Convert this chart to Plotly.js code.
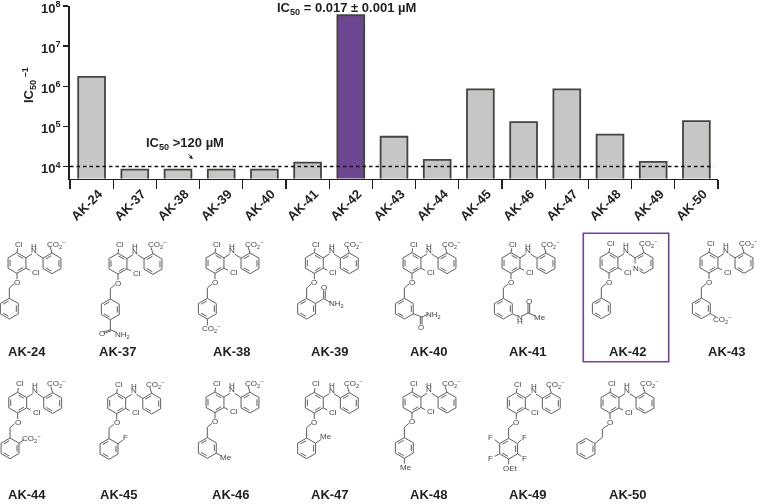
<!DOCTYPE html>
<html>
<head>
<meta charset="utf-8">
<script src="https://cdn.plot.ly/plotly-3.0.1.min.js"></script>
<style>html,body{margin:0;padding:0;background:#fff}#chart{width:757px;height:504px}#chart .main-svg{will-change:transform}</style>
</head>
<body>
<div id="chart"></div>
<script>
// ---- chart data ----
const compounds = ['AK-24','AK-37','AK-38','AK-39','AK-40','AK-41','AK-42','AK-43','AK-44','AK-45','AK-46','AK-47','AK-48','AK-49','AK-50'];
const ic50Inverse = [1700000,8333,8333,8333,8333,12500,58800000,55000,14500,830000,127000,830000,62000,13000,135000];
const highlighted = 'AK-42';
const thresholdValue = 10000;
const yTickValues = [10000,100000,1000000,10000000,100000000];
const yTickLabels = ['10<sup>4</sup>','10<sup>5</sup>','10<sup>6</sup>','10<sup>7</sup>','10<sup>8</sup>'];

// ---- styles ----
const FONT = 'Liberation Sans, Arial, sans-serif';
const INK = '#231f20';
const BAR_EDGE = '#46433f';
const GREY = '#c7c6c4';
const PURPLE = '#6e4793';
const BOND = '#555555';
const ATOM = '#444444';
const W = 757, H = 504;

// ---- structure drawing helpers (all in page pixels on hidden axes) ----
const CO2 = 'CO<sub>2</sub><sup>–</sup>';
const NH2 = 'NH<sub>2</sub>';
const annotations = [];
const traces = [];

function label(x, y, text, size, opts) {
  annotations.push(Object.assign({
    xref: 'x2', yref: 'y2', x: x, y: y, text: text, showarrow: false,
    xanchor: 'center', yanchor: 'middle', borderpad: 0,
    font: {family: FONT, size: size || 8, color: ATOM}
  }, opts || {}));
}

function structure(name, clX, clY, draw) {
  const xs = [], ys = [];
  const P = (x, y) => [clX + x / 3, clY + y / 3];
  const seg = (x1, y1, x2, y2) => {
    const a = P(x1, y1), b = P(x2, y2);
    xs.push(a[0], b[0], null); ys.push(a[1], b[1], null);
  };
  const R = 31;
  const ring = (cx, cy, doubles) => {
    const v = [];
    for (let i = 0; i < 6; i++) {
      const t = (-90 + 60 * i) * Math.PI / 180;
      v.push([cx + R * Math.cos(t), cy + R * Math.sin(t)]);
    }
    for (let i = 0; i < 6; i++) {
      const a = v[i], b = v[(i + 1) % 6];
      seg(a[0], a[1], b[0], b[1]);
      if (doubles.includes(i)) {
        const k = 0.78;
        const ax = cx + (a[0] - cx) * k, ay = cy + (a[1] - cy) * k;
        const bx = cx + (b[0] - cx) * k, by = cy + (b[1] - cy) * k;
        const mx = (ax + bx) / 2, my = (ay + by) / 2;
        seg(mx + (ax - mx) * 0.8, my + (ay - my) * 0.8, mx + (bx - mx) * 0.8, my + (by - my) * 0.8);
      }
    }
  };
  const text = (x, y, t, opts) => { const p = P(x, y); label(p[0], p[1], t, 8, opts); };
  const api = {seg, ring, text};

  // shared diaryl-amine core
  ring(-6, 57, [0, 2, 4]);
  ring(99, 58, [1, 3, 5]);
  seg(-6, 26, -4, 13);
  seg(20.8, 41.5, 39, 30);
  seg(53, 30, 72.2, 42.5);
  seg(99, 27, 93, 8);
  seg(20.8, 72.5, 33, 79);
  seg(-6, 88, -6, 106);
  text(0, 0, 'Cl');
  text(46, 20, 'N');
  text(46, 6, 'H');
  text(111, 0, CO2);
  text(51, 86, 'Cl');
  text(-6, 115, 'O');

  // O-benzyl linker and terminal ring, substituents relative to ring centre
  const benzyl = (fn) => {
    const cx = -29, cy = 194;
    seg(-15, 120, cx, 132);
    seg(cx, 132, cx, 163);
    ring(cx, cy, [1, 3, 5]);
    if (fn) fn((a, b, c, d) => seg(cx + a, cy + b, cx + c, cy + d),
               (a, b, t) => text(cx + a, cy + b, t));
  };
  draw(benzyl, api);
  traces.push({
    type: 'scatter', mode: 'lines', x: xs, y: ys, xaxis: 'x2', yaxis: 'y2',
    name: name, showlegend: false, hoverinfo: 'skip', connectgaps: false,
    line: {color: BOND, width: 0.95}
  });
}

const UR = [26.8, -15.5], LR = [26.8, 15.5], UL = [-26.8, -15.5], LL = [-26.8, 15.5];

structure('AK-24', 19, 244, b => b());
structure('AK-37', 120, 244.7, b => b((s, t) => {
  s(0, 31, 0, 61); s(0, 61, -20, 68); s(3, 64, -16, 71); s(0, 61, 17, 68);
  t(-26, 72, 'O'); t(37, 76, NH2);
}));
structure('AK-38', 217, 244, b => b((s, t) => { s(0, 31, 0, 50); t(12, 58, CO2); }));
structure('AK-39', 316.3, 244, b => b((s, t) => {
  s(26.8, -15.5, 51, -30); s(51, -30, 51, -55); s(56, -30, 56, -55); s(51, -30, 71, -19);
  t(53, -65, 'O'); t(90, -13, NH2);
}));
structure('AK-40', 414, 244, b => b((s, t) => {
  s(26.8, 15.5, 53, 25); s(53, 25, 53, 48); s(48, 25, 48, 48); s(53, 25, 70, 17);
  t(51, 56, 'O'); t(86, 18, NH2);
}));
structure('AK-41', 513, 244, b => b((s, t) => {
  s(26.8, 15.5, 42, 22); s(56, 22, 74, 13); s(74, 13, 74, -15); s(79, 13, 79, -15); s(74, 13, 94, 21);
  t(49, 25, 'N'); t(49, 38, 'H'); t(76, -22, 'O'); t(109, 25, 'Me');
}));
structure('AK-42', 611, 243.7, (b, api) => {
  b();
  api.text(74, 73, 'N', {bgcolor: '#ffffff'});
});
structure('AK-43', 711, 243.7, b => b((s, t) => { s(26.8, 15.5, 45, 26); t(63, 34, CO2); }));
structure('AK-44', 19.7, 383.7, b => b((s, t) => { s(26.8, -15.5, 43, -27); t(63, -29, CO2); }));
structure('AK-45', 118.7, 384.3, b => b((s, t) => { s(26.8, -15.5, 42, -27); t(50, -34, 'F'); }));
structure('AK-46', 217, 383.3, b => b((s, t) => { s(26.8, 15.5, 40, 23); t(55, 28, 'Me'); }));
structure('AK-47', 316.3, 383.7, b => b((s, t) => { s(26.8, -15.5, 44, -27); t(59, -35, 'Me'); }));
structure('AK-48', 414, 383.3, b => b((s, t) => { s(0, 31, 0, 47); t(6, 60, 'Me'); }));
structure('AK-49', 518.3, 384, b => b((s, t) => {
  s(UL[0], UL[1], -42, -27); t(-54, -34, 'F');
  s(UR[0], UR[1], 38, -27); t(48, -34, 'F');
  s(LL[0], LL[1], -42, 23); t(-54, 28, 'F');
  s(LR[0], LR[1], 38, 23); t(48, 28, 'F');
  s(0, 31, 0, 47); t(5, 60, 'OEt');
}));
structure('AK-50', 612, 383.7, (b, api) => {
  api.seg(-10, 123, -29, 136); api.seg(-29, 136, -29, 161); api.seg(-29, 161, -51, 179.5);
  api.ring(-78, 195, [1, 3, 5]);
});

// compound captions
const captionX = [27,118.3,231.5,330,429,527.8,627.8,726.5,26.7,118.5,231,330,429,528,627.5];
const captionY = [351.7,351.7,351.7,351.7,351.7,351.7,351.7,351.7,494.7,494.7,494.7,494.7,494.7,494.7,494.7];
compounds.forEach((c, i) => label(captionX[i], captionY[i], c, 13, {
  font: {family: FONT, size: 13, color: INK, weight: 'bold'}
}));

// chart annotations
const boldAnn = (x, y, t, size, extra) => label(x, y, t, size, Object.assign({
  font: {family: FONT, size: size, color: INK, weight: 'bold'}
}, extra || {}));
boldAnn(346, 8, 'IC<sub>50</sub> = 0.017 ± 0.001 µM', 13);
boldAnn(184.5, 143, 'IC<sub>50</sub> >120 µM', 13);
boldAnn(29, 85, 'IC<sub>50</sub><sup> –1</sup>', 13, {textangle: -90});
annotations.push({
  xref: 'x2', yref: 'y2', axref: 'x2', ayref: 'y2',
  x: 192.7, y: 159.3, ax: 187.3, ay: 152.7, text: '', showarrow: true,
  arrowhead: 2, arrowsize: 0.8, arrowwidth: 0.9, arrowcolor: INK, standoff: 0, startstandoff: 0
});

// purple frame round the lead compound
const shapes = [
  {type: 'rect', xref: 'x2', yref: 'y2', x0: 583.3, x1: 668.7, y0: 233.3, y1: 361.7,
   line: {color: PURPLE, width: 1.6}, fillcolor: 'rgba(0,0,0,0)'},
  {type: 'line', xref: 'x', yref: 'y', x0: -0.5, x1: 14.4, y0: thresholdValue, y1: thresholdValue,
   line: {color: '#111111', width: 1.4, dash: '3.5px,3px'}, layer: 'above'}
];

const bars = {
  type: 'bar', x: compounds, y: ic50Inverse, hoverinfo: 'x+y', showlegend: false,
  marker: {
    color: compounds.map(c => c === highlighted ? PURPLE : GREY),
    line: {color: BAR_EDGE, width: 1.8}
  }
};

const layout = {
  width: W, height: H, margin: {l: 0, r: 0, t: 0, b: 0},
  paper_bgcolor: '#ffffff', plot_bgcolor: 'rgba(0,0,0,0)', showlegend: false,
  bargap: 0.38, hovermode: false,
  font: {family: FONT, color: INK},
  xaxis: {
    domain: [70 / W, 718 / W], anchor: 'y', type: 'category', range: [-0.5, 14.5],
    tickson: 'boundaries', ticks: 'outside', ticklen: 9, tickwidth: 1.3, tickcolor: INK,
    showline: true, linecolor: INK, linewidth: 1.8, showgrid: false, zeroline: false,
    tickangle: -45, tickfont: {family: FONT, size: 13, color: INK, weight: 'bold'},
    ticklabelshift: 7, ticklabelstandoff: 1, fixedrange: true
  },
  yaxis: {
    domain: [1 - 178.5 / H, 1 - 6 / H], anchor: 'x', type: 'log', range: [Math.log10(5000), 8],
    tickmode: 'array', tickvals: yTickValues, ticktext: yTickLabels,
    ticks: 'outside', ticklen: 5, tickwidth: 1.3, tickcolor: INK,
    showline: true, linecolor: INK, linewidth: 1.8, showgrid: false, zeroline: false,
    tickfont: {family: FONT, size: 13, color: INK, weight: 'bold'},
    ticklabeloverflow: 'allow', ticklabelshift: 2, fixedrange: true
  },
  xaxis2: {domain: [0, 1], range: [0, W], visible: false, anchor: 'y2', fixedrange: true},
  yaxis2: {domain: [0, 1], range: [H, 0], visible: false, anchor: 'x2', fixedrange: true},
  annotations: annotations,
  shapes: shapes
};

Plotly.newPlot('chart', [bars].concat(traces), layout, {displayModeBar: false, staticPlot: true});
</script>
</body>
</html>
